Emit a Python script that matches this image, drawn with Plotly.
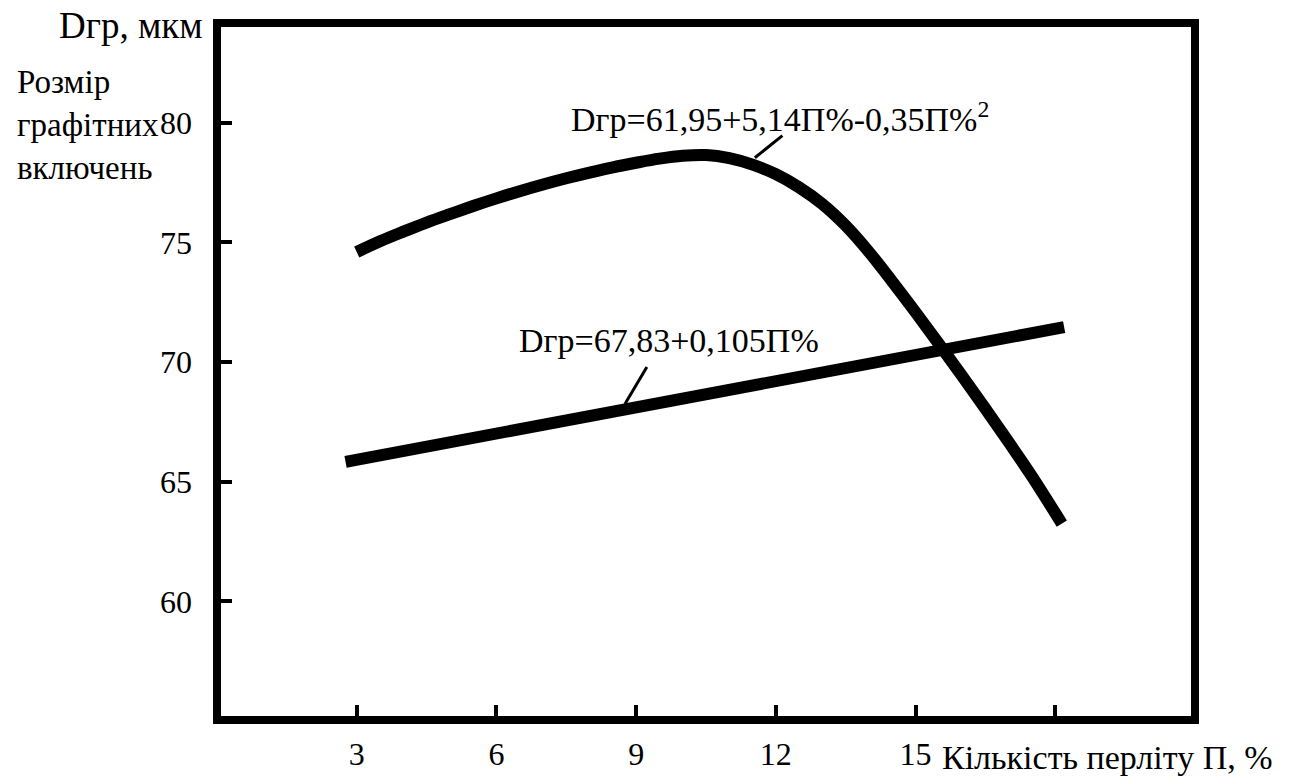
import plotly.graph_objects as go

# ---- data ----
pearlite_quad = [3.0, 3.5, 4.0, 4.5, 5.0, 5.5, 6.0, 6.5, 7.0, 7.5, 8.0, 8.5, 9.0, 9.5,
                 10.0, 10.5, 11.0, 11.5, 12.0, 12.5, 13.0, 13.5, 14.0, 14.5, 15.0, 15.5,
                 16.0, 16.5, 17.0, 17.5, 18.14]
dgr_quad = [74.60, 75.05, 75.45, 75.83, 76.18, 76.52, 76.84, 77.14, 77.42, 77.68, 77.92,
            78.14, 78.33, 78.50, 78.62, 78.65, 78.52, 78.25, 77.85, 77.30, 76.60, 75.70,
            74.60, 73.36, 72.08, 70.76, 69.42, 68.05, 66.65, 65.22, 63.25]

pearlite_lin = [2.76, 9.0, 15.6, 18.19]
dgr_lin = [65.83, 68.1, 70.5, 71.46]

x_tickvals = [3, 6, 9, 12, 15]
x_minor_tickvals = [18]
y_tickvals = [60, 65, 70, 75, 80]

eq_quad = "Dгр=61,95+5,14П%-0,35П%<sup>2</sup>"
eq_lin = "Dгр=67,83+0,105П%"
y_title_top = "Dгр, мкм"
y_title_side = "Розмір<br>графітних<br>включень"
x_title = "Кількість перліту П, %"

FONT = "Liberation Serif, Times New Roman, serif"

fig = go.Figure()
fig.add_trace(go.Scatter(x=pearlite_quad, y=dgr_quad, mode="lines",
                         line=dict(color="black", width=12, shape="spline", smoothing=1.0),
                         showlegend=False, hoverinfo="skip"))
fig.add_trace(go.Scatter(x=pearlite_lin, y=dgr_lin, mode="lines",
                         line=dict(color="black", width=12),
                         showlegend=False, hoverinfo="skip"))

# frame
fig.add_shape(type="rect", xref="paper", yref="paper", x0=0, x1=1, y0=0, y1=1,
              line=dict(color="black", width=8), layer="above")

# leader lines for the equations
fig.add_shape(type="line", xref="x", yref="y", x0=12.14, y0=79.46, x1=11.55, y1=78.54,
              line=dict(color="black", width=3))
fig.add_shape(type="line", xref="x", yref="y", x0=9.23, y0=69.79, x1=8.76, y1=68.25,
              line=dict(color="black", width=3))

fig.add_annotation(x=7.56, y=80.25, xref="x", yref="y", text=eq_quad, showarrow=False,
                   xanchor="left", yanchor="middle", font=dict(family=FONT, size=34, color="black"))
fig.add_annotation(x=6.44, y=70.92, xref="x", yref="y", text=eq_lin, showarrow=False,
                   xanchor="left", yanchor="middle", font=dict(family=FONT, size=34, color="black"))

fig.add_annotation(x=-0.012, y=0.997, xref="paper", yref="paper", text=y_title_top,
                   showarrow=False, xanchor="right", yanchor="middle",
                   font=dict(family=FONT, size=37, color="black"))
fig.add_annotation(x=-0.2065, y=0.854, xref="paper", yref="paper", text=y_title_side,
                   showarrow=False, xanchor="left", yanchor="middle", align="left",
                   font=dict(family=FONT, size=33, color="black"))
fig.add_annotation(x=15.53, y=-0.054, xref="x", yref="paper", text=x_title,
                   showarrow=False, xanchor="left", yanchor="middle",
                   font=dict(family=FONT, size=34, color="black"))

fig.update_xaxes(range=[0, 21], showgrid=False, zeroline=False, showline=False,
                 tickmode="array", tickvals=x_tickvals,
                 ticks="inside", ticklen=15, tickwidth=4, tickcolor="black",
                 ticklabelstandoff=12,
                 minor=dict(tickmode="array", tickvals=x_minor_tickvals, ticks="inside",
                            ticklen=15, tickwidth=4, tickcolor="black", showgrid=False),
                 tickfont=dict(family=FONT, size=32, color="black"))
fig.update_yaxes(range=[55.04, 84.17], showgrid=False, zeroline=False, showline=False,
                 tickmode="array", tickvals=y_tickvals,
                 ticks="inside", ticklen=15, tickwidth=4, tickcolor="black",
                 ticklabelstandoff=24,
                 tickfont=dict(family=FONT, size=32, color="black"))

fig.update_layout(width=1291, height=784, margin=dict(l=217, r=96, t=23, b=62),
                  paper_bgcolor="white", plot_bgcolor="white")

fig.write_html("out.html")
